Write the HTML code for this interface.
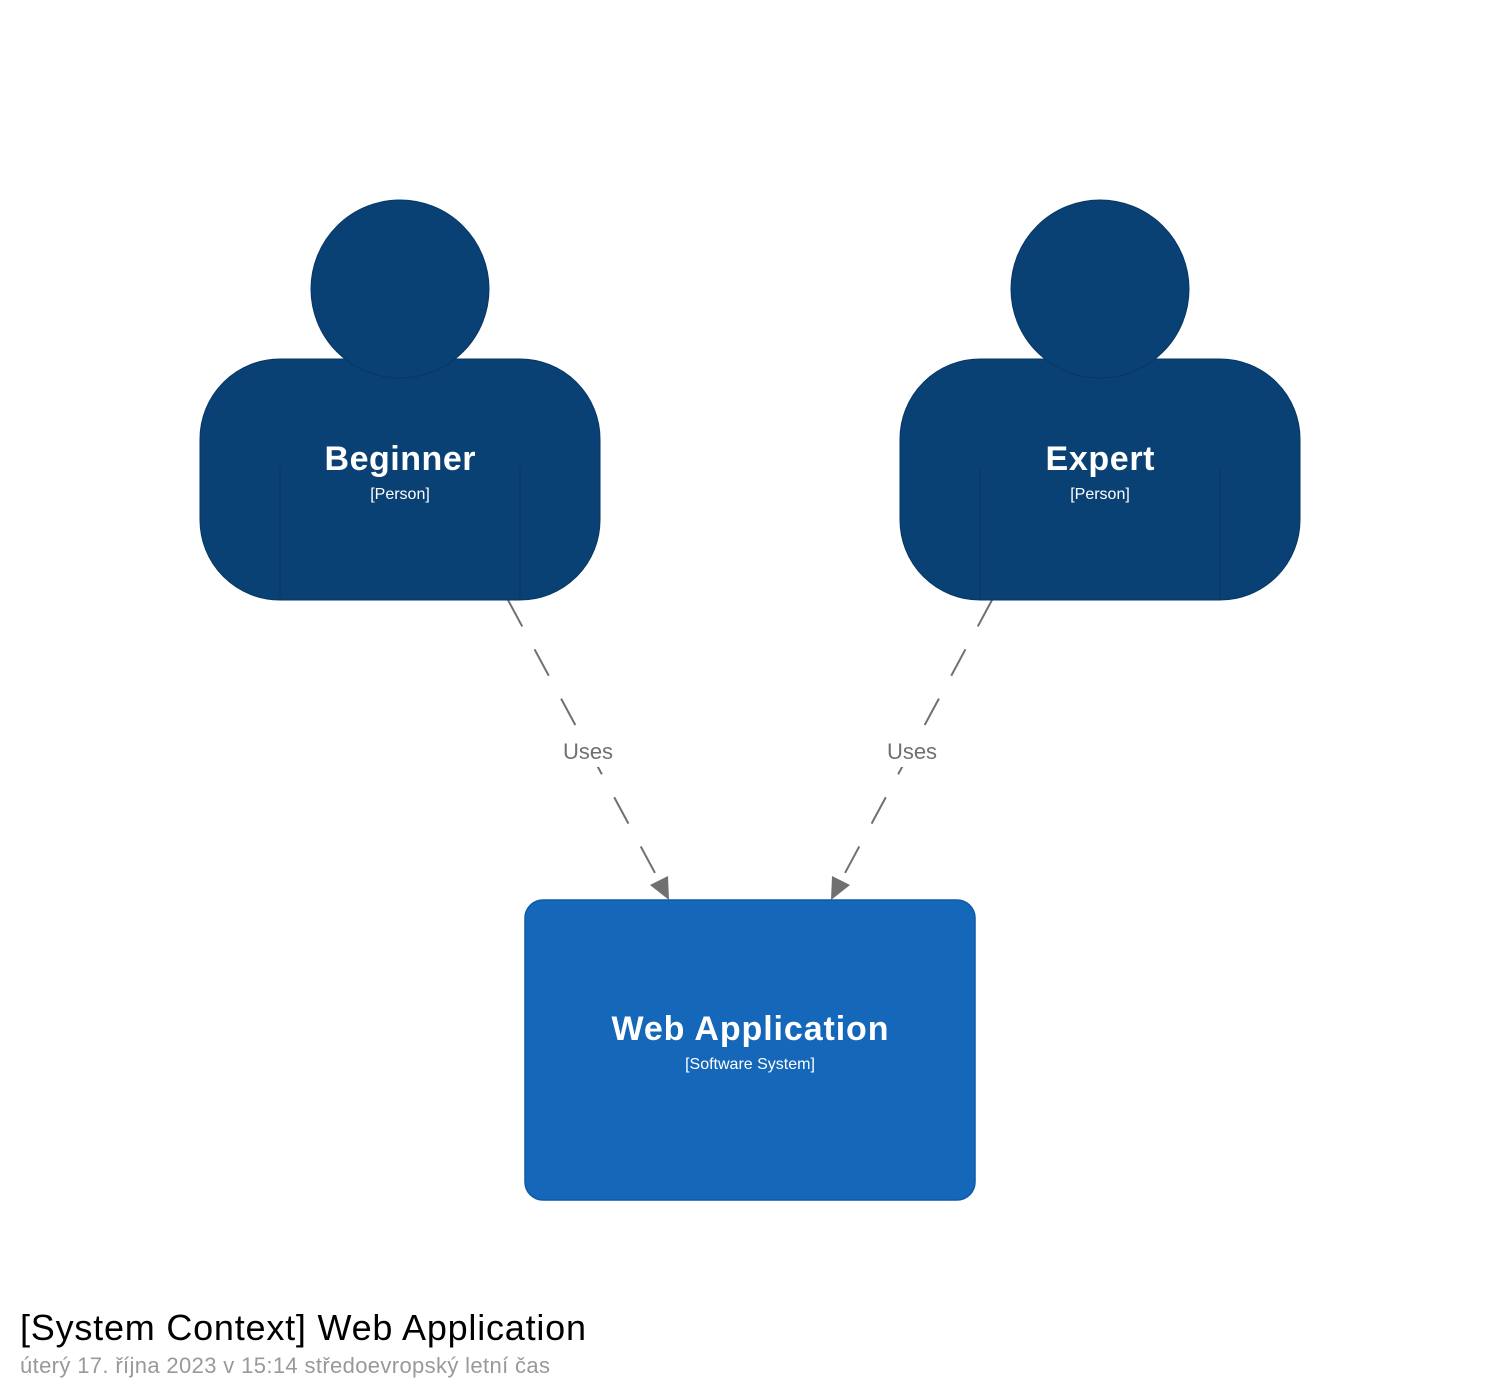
<!DOCTYPE html>
<html><head><meta charset="utf-8"><style>
html,body{margin:0;padding:0;background:#fff;width:1500px;height:1400px;overflow:hidden}
svg text{font-family:"Liberation Sans","DejaVu Sans",sans-serif}
</style></head><body>
<svg width="1500" height="1400" viewBox="0 0 1500 1400" xmlns="http://www.w3.org/2000/svg">
<g stroke="#707070" stroke-width="2" fill="none" stroke-dasharray="30,26">
<line x1="508" y1="600" x2="662" y2="886"/>
<line x1="992" y1="600" x2="838" y2="886"/>
</g>
<rect x="556" y="735" width="64" height="32" fill="#fff"/>
<rect x="880" y="735" width="64" height="32" fill="#fff"/>
<polygon points="669,900 650,885 668,876" fill="#707070"/>
<polygon points="831,900 832,876 850,885" fill="#707070"/>
<text x="588" y="759" font-size="22" fill="#707070" text-anchor="middle">Uses</text>
<text x="912" y="759" font-size="22" fill="#707070" text-anchor="middle">Uses</text>
<g>
<rect x="200" y="359" width="400" height="241" rx="80" fill="#0A4175" stroke="#073763" stroke-width="1"/>
<circle cx="400" cy="289" r="89" fill="#0A4175" stroke="#073763" stroke-width="1"/>
<line x1="280" y1="467" x2="280" y2="600" stroke="#073763" stroke-width="1"/>
<line x1="520" y1="467" x2="520" y2="600" stroke="#073763" stroke-width="1"/>
<text x="400" y="470" font-size="34" font-weight="bold" fill="#fff" text-anchor="middle" textLength="151">Beginner</text>
<text x="400" y="499" font-size="16" fill="#fff" text-anchor="middle">[Person]</text>
</g>
<g>
<rect x="900" y="359" width="400" height="241" rx="80" fill="#0A4175" stroke="#073763" stroke-width="1"/>
<circle cx="1100" cy="289" r="89" fill="#0A4175" stroke="#073763" stroke-width="1"/>
<line x1="980" y1="467" x2="980" y2="600" stroke="#073763" stroke-width="1"/>
<line x1="1220" y1="467" x2="1220" y2="600" stroke="#073763" stroke-width="1"/>
<text x="1100" y="470" font-size="34" font-weight="bold" fill="#fff" text-anchor="middle" textLength="109">Expert</text>
<text x="1100" y="499" font-size="16" fill="#fff" text-anchor="middle">[Person]</text>
</g>
<rect x="525" y="900" width="450" height="300" rx="18" fill="#1467B9" stroke="#0E5AA5" stroke-width="1.5"/>
<text x="750" y="1040" font-size="34" font-weight="bold" fill="#fff" text-anchor="middle" textLength="277">Web Application</text>
<text x="750" y="1069" font-size="16" fill="#fff" text-anchor="middle">[Software System]</text>
<text x="20" y="1340" font-size="36" fill="#000" textLength="566">[System Context] Web Application</text>
<text x="20" y="1373" font-size="22" fill="#999" textLength="530">úterý 17. října 2023 v 15:14 středoevropský letní čas</text>
</svg>
</body></html>
